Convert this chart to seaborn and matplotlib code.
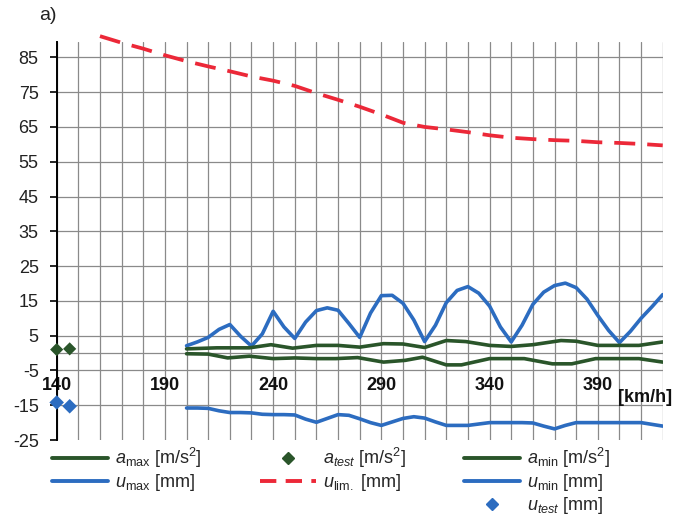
import matplotlib
matplotlib.use("Agg")
import matplotlib.pyplot as plt
import seaborn as sns
from matplotlib.lines import Line2D

# ---------------- data ----------------
speed_u = list(range(200, 425, 5))
u_max = [2.1, 3.2, 4.5, 6.8, 8.2, 4.8, 2.0, 5.5, 12.0, 7.5,
         4.2, 8.9, 12.2, 13.0, 12.3, 8.5, 4.5, 11.5, 16.5, 16.6,
         14.3, 9.5, 3.3, 8.0, 14.5, 18.0, 19.1, 17.2, 13.5, 7.5,
         3.2, 8.0, 14.0, 17.5, 19.4, 20.1, 18.8, 15.5, 10.8, 6.5,
         3.0, 6.2, 10.0, 13.3, 16.8]
u_min = [-15.8, -15.8, -15.9, -16.6, -17.1, -17.1, -17.2, -17.6, -17.7, -17.7,
         -17.8, -19.0, -19.9, -18.8, -17.7, -17.9, -18.9, -20.0, -20.8, -19.8,
         -18.8, -18.3, -18.7, -19.8, -20.8, -20.8, -20.8, -20.4, -20.0, -20.0,
         -20.0, -20.0, -20.1, -21.0, -21.8, -20.8, -20.0, -20.0, -20.0, -20.0,
         -20.0, -20.0, -20.0, -20.5, -21.0]

speed_amax = [200, 214, 229, 239, 249, 260, 270, 280, 291, 300,
              310, 320, 329, 340, 350, 360, 373, 380, 390, 409, 420]
a_max = [1.2, 1.5, 1.5, 2.4, 1.4, 2.2, 2.2, 1.7, 2.7, 2.6,
         1.6, 3.6, 3.3, 2.2, 1.9, 2.4, 3.6, 3.4, 2.2, 2.2, 3.2]

speed_amin = [200, 210, 219, 229, 240, 250, 260, 269, 279, 291,
              301, 309, 320, 327, 340, 356, 369, 378, 389, 409, 420]
a_min = [-0.2, -0.3, -1.4, -0.9, -1.6, -1.4, -1.6, -1.6, -1.3, -2.6,
         -2.1, -1.2, -3.4, -3.4, -1.6, -1.6, -3.1, -3.1, -1.6, -1.6, -2.6]

speed_lim = list(range(160, 430, 10))
u_lim = [91.1, 89.2, 87.5, 85.6, 83.9, 82.4, 81.0, 79.5, 78.3, 76.8,
         74.7, 72.8, 70.8, 68.6, 66.2, 65.0, 64.3, 63.5, 62.6, 61.9,
         61.5, 61.2, 61.0, 60.6, 60.4, 60.1, 59.7]

speed_test = [140, 146]
a_test = [1.0, 1.2]
u_test = [-14.2, -15.3]

x_tick_vals = [140, 190, 240, 290, 340, 390]
x_tick_labels = ["140", "190", "240", "290", "340", "390"]
y_tick_vals = [-25, -15, -5, 5, 15, 25, 35, 45, 55, 65, 75, 85]
y_tick_labels = ["-25", "-15", "-5", "5", "15", "25", "35", "45", "55", "65", "75", "85"]

lab_amax = r"$a_{\mathrm{max}}$ [m/s$^{2}$]"
lab_atest = r"$a_{test}$ [m/s$^{2}$]"
lab_amin = r"$a_{\mathrm{min}}$ [m/s$^{2}$]"
lab_umax = r"$u_{\mathrm{max}}$ [mm]"
lab_ulim = r"$u_{\mathrm{lim.}}$ [mm]"
lab_umin = r"$u_{\mathrm{min}}$ [mm]"
lab_utest = r"$u_{test}$ [mm]"

# ---------------- style ----------------
sns.set_theme(style="white")
plt.rcParams["font.family"] = ["Liberation Sans", "DejaVu Sans"]
plt.rcParams["mathtext.fontset"] = "custom"
plt.rcParams["mathtext.rm"] = "Liberation Sans"
plt.rcParams["mathtext.it"] = "Liberation Sans:italic"
plt.rcParams["mathtext.bf"] = "Liberation Sans:bold"

GREEN = "#2A552A"
BLUE = "#2C6CC0"
RED = "#EC2838"
GRID = "#8a8a8a"
FS = 13

fig = plt.figure(figsize=(6.74, 5.15), dpi=100)
ax = fig.add_axes([0.0841, 0.1456, 0.8992, 0.7734])

# lines
sns.lineplot(x=speed_lim, y=u_lim, ax=ax, color=RED, lw=2.7,
             clip_on=False, zorder=3).lines[-1].set_dashes([5.6, 3.2])
sns.lineplot(x=speed_u, y=u_max, ax=ax, color=BLUE, lw=2.6, zorder=3)
sns.lineplot(x=speed_u, y=u_min, ax=ax, color=BLUE, lw=2.6, zorder=3)
sns.lineplot(x=speed_amax, y=a_max, ax=ax, color=GREEN, lw=2.6, zorder=3)
sns.lineplot(x=speed_amin, y=a_min, ax=ax, color=GREEN, lw=2.6, zorder=3)
sns.scatterplot(x=speed_test, y=a_test, ax=ax, color=GREEN, marker="D", s=45,
                edgecolor="none", zorder=4, clip_on=False)
sns.scatterplot(x=speed_test, y=u_test, ax=ax, color=BLUE, marker="D", s=55,
                edgecolor="none", zorder=4, clip_on=False)

# axes & grid
ax.set_xlim(140, 420)
ax.set_ylim(-25, 89.5)
ax.set_xlabel("")
ax.set_ylabel("")
for s in ["top", "right"]:
    ax.spines[s].set_visible(False)
ax.spines["bottom"].set_position(("data", 0))
ax.spines["bottom"].set_visible(False)
ax.spines["left"].set_color("black")
ax.spines["left"].set_linewidth(1.4)
ax.tick_params(axis="x", which="both", length=0, pad=17, labelsize=FS,
               labelcolor="#111111")
ax.tick_params(axis="y", which="major", length=5, width=1.2, color="black",
               direction="out", pad=8, left=True, labelsize=FS,
               labelcolor="#222222")

ax.set_xticks(list(range(140, 421, 10)), minor=True)
ax.set_xticks(x_tick_vals)
ax.set_xticklabels(x_tick_labels, fontweight="bold", fontsize=FS)
ax.set_yticks(y_tick_vals)
ax.set_yticklabels(y_tick_labels, fontsize=FS)
ax.grid(True, axis="x", which="both", color=GRID, lw=0.9)
ax.grid(True, axis="y", which="major", color=GRID, lw=0.9)
ax.set_axisbelow(True)
ax.axhline(0, color=GRID, lw=0.9, zorder=0.5)

# hide gridline at bottom tick
for gl, v in zip(ax.yaxis.get_gridlines(), y_tick_vals):
    if v == -25:
        gl.set_visible(False)

fig.text(645 / 674, 1 - 398 / 515, "[km/h]", fontsize=FS, fontweight="bold",
         ha="center", va="center", color="#111111")
fig.text(39 / 674, 1 - 16 / 515, "a)", fontsize=14, ha="left", va="center",
         color="#222222")

# legend
blank = Line2D([], [], alpha=0)
h_amax = Line2D([], [], color=GREEN, lw=2.8)
h_atest = Line2D([], [], color=GREEN, marker="D", ms=6, lw=0)
h_amin = Line2D([], [], color=GREEN, lw=2.8)
h_umax = Line2D([], [], color=BLUE, lw=2.8)
h_ulim = Line2D([], [], color=RED, lw=2.8, dashes=[4.2, 2.4])
h_umin = Line2D([], [], color=BLUE, lw=2.8)
h_utest = Line2D([], [], color=BLUE, marker="D", ms=6, lw=0)
handles = [h_amax, h_umax, blank, h_atest, h_ulim, blank, h_amin, h_umin, h_utest]
labels = [lab_amax, lab_umax, "", lab_atest, lab_ulim, "", lab_amin, lab_umin, lab_utest]
fig.legend(handles, labels, ncol=3, loc="upper left",
           bbox_to_anchor=(52 / 674, 1 - 446 / 515), frameon=False,
           fontsize=FS, handlelength=3.1, handletextpad=0.4,
           columnspacing=3.2, labelspacing=0.12, borderpad=0, borderaxespad=0)

fig.savefig("out.png", dpi=100)
